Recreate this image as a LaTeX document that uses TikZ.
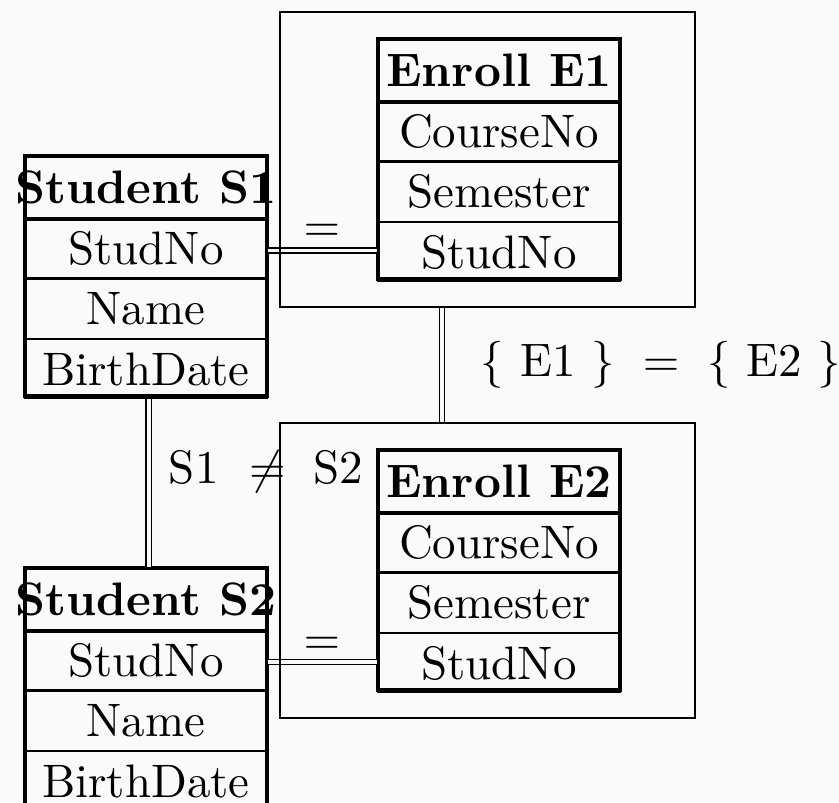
\documentclass[tikz,border=0pt]{standalone}
\usepackage{tikz}
\definecolor{paper}{RGB}{250,250,250}
% one drawing unit
\def\pxunit{0.213pt}
\tikzset{
  x=0.213pt, y=-0.213pt,
  frame/.style={line width=0.75pt},
  attr/.style={draw, line width=0.27pt, inner sep=0pt,
    minimum width=242*\pxunit, minimum height=59*\pxunit},
  headtxt/.style={inner sep=0pt, font=\bfseries, minimum height=63*\pxunit},
  group/.style={draw, line width=0.45pt, inner sep=0pt},
  link/.style={draw, double=paper, double distance=0.8pt, line width=0.3pt},
  lbl/.style={inner sep=0pt},
}
% table: name, left, top, title, three attribute rows
\newcommand\erdtable[7]{%
  \node[headtxt] (#1h) at (#2+121,#3+31.5) {#4};
  \node[attr] (#1a) at (#2+121,#3+92.5) {#5};
  \node[attr, anchor=north] (#1b) at (#1a.south) {#6};
  \node[attr, anchor=north] (#1c) at (#1b.south) {#7};
  \draw[frame] (#2,#3+63) -- (#2+242,#3+63);
  \draw[frame] (#2,#3) rectangle (#2+242,#3+240);
}
\begin{document}
\begin{tikzpicture}
\path[use as bounding box, fill=paper] (0,0) rectangle (839,802);

% entity tables
\erdtable{sa}{25}{156}{Student S1}{StudNo}{Name}{BirthDate}
\erdtable{ea}{378}{39}{Enroll E1}{CourseNo}{Semester}{StudNo}
\erdtable{sb}{25}{568}{Student S2}{StudNo}{Name}{BirthDate}
\erdtable{eb}{378}{450}{Enroll E2}{CourseNo}{Semester}{StudNo}

% join conditions
\draw[link] ([yshift=-0.4pt]saa.east) -- ([yshift=-0.4pt]saa.east -| eac.west);
\draw[link] ([yshift=-0.3pt]sba.east) -- ([yshift=-0.3pt]sba.east -| ebc.west);
\draw[link] ([xshift=2.7*\pxunit]sac.south) -- ([xshift=2.7*\pxunit]sbh.north);

% grouping boxes
\node[group, minimum width=415*\pxunit, minimum height=295*\pxunit] (ga) at (487.5,159.5) {};
\node[group, minimum width=415*\pxunit, minimum height=295*\pxunit] (gb) at (487.5,570.5) {};
\draw[link] ([xshift=-45.3*\pxunit]ga.south) -- ([xshift=-45.3*\pxunit]gb.north);

% labels
\node[lbl, anchor=base] (eqa) at (322,241) {$=$};
\node[lbl, anchor=base] (eqb) at (322,654) {$=$};
\node[lbl, anchor=base west] (neq) at (168,483) {S1\hspace{6.5pt}$\neq$\hspace{6pt}S2};
\node[lbl, anchor=base west] (sets) at (480,376) {$\{$ E1 $\}$\hspace{6pt}$=$\hspace{6pt}$\{$ E2 $\}$};
\end{tikzpicture}
\end{document}
